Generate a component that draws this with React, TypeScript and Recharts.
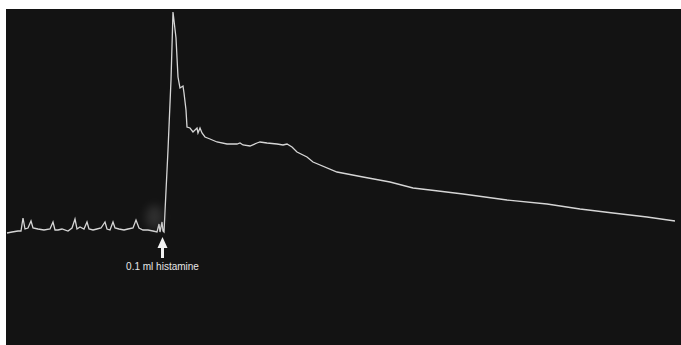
import { LineChart, Line, XAxis, YAxis, ReferenceDot } from "recharts"

// kymograph trace: time (s) vs. recorded tension (mm of pen deflection)
const time = [
  1, 6, 12, 15, 17, 19, 22, 25, 27, 32, 38, 44, 47, 49, 52, 56, 62, 66, 69, 71,
  74, 78, 81, 83, 87, 91, 95, 99, 101, 104, 107, 109, 113, 118, 122, 127, 130, 133,
  137, 142, 147, 151, 153, 154, 156, 157, 158, 162, 165, 167, 170, 172, 174, 177,
  178, 180, 181, 184, 187, 191, 192, 194, 196, 199, 204, 211, 221, 231, 234, 237,
  244, 251, 254, 261, 271, 277, 281, 286, 291, 301, 307, 331, 357, 384, 407, 424,
  457, 501, 541, 574, 607, 641, 669,
]
const tension = [
  112, 113, 114, 114, 127, 116, 117, 124, 117, 116, 115, 116, 123, 115, 115, 116,
  114, 117, 126, 116, 118, 116, 123, 116, 115, 116, 117, 123, 116, 115, 123, 117,
  116, 115, 116, 117, 125, 117, 115, 115, 114, 113, 121, 113, 123, 114, 113, 195,
  265, 333, 307, 268, 257, 259, 252, 235, 218, 217, 213, 217, 212, 217, 212, 208,
  206, 203, 201, 201, 202, 200, 199, 202, 203, 202, 201, 200, 201, 198, 193, 188,
  183, 173, 168, 163, 157, 155, 151, 145, 141, 136, 132, 128, 124,
]

const injectionTime = 156.5
const injectionLabel = "0.1 ml histamine"

const trace = time.map((t, i) => ({ t, v: tension[i] }))

function Marker({ cx, cy }: { cx?: number; cy?: number }) {
  if (cx == null || cy == null) return null
  return (
    <g>
      <ellipse cx={cx - 8} cy={cy - 20} rx={9} ry={12} fill="#6e6e6e" opacity={0.3} style={{ filter: "blur(4px)" }} />
      <polygon
        points={`${cx},${cy} ${cx - 5},${cy + 11} ${cx - 1.5},${cy + 11} ${cx - 1.5},${cy + 21} ${cx + 1.5},${cy + 21} ${cx + 1.5},${cy + 11} ${cx + 5},${cy + 11}`}
        fill="#f2f2f2"
      />
      <text x={cx} y={cy + 33} textAnchor="middle" fontSize={10} fill="#e6e6e6" fontFamily="'Liberation Sans', Arial, sans-serif">
        {injectionLabel}
      </text>
    </g>
  )
}

export default function App() {
  return (
    <div style={{ position: "absolute", left: 0, top: 0, width: 681, height: 345, background: "#fff" }}>
      <div style={{ position: "absolute", left: 6, top: 9, width: 675, height: 336, background: "#131313" }}>
        <LineChart width={675} height={336} data={trace} margin={{ top: 0, right: 0, bottom: 0, left: 0 }}>
          <XAxis dataKey="t" type="number" domain={[0, 675]} hide />
          <YAxis type="number" domain={[0, 336]} hide />
          <Line
            dataKey="v"
            type="linear"
            stroke="#d6d6d6"
            strokeWidth={1.3}
            dot={false}
            isAnimationActive={false}
          />
          <ReferenceDot x={injectionTime} y={108} ifOverflow="visible" shape={(p: any) => <Marker cx={p.cx} cy={p.cy} />} />
        </LineChart>
      </div>
    </div>
  )
}
